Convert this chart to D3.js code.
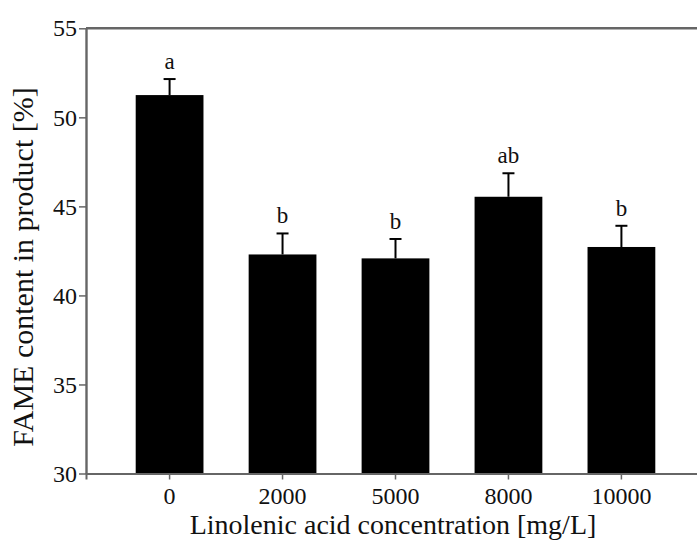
<!DOCTYPE html>
<html>
<head>
<meta charset="utf-8">
<script src="https://cdn.jsdelivr.net/npm/d3@7"></script>
<style>
  html, body { margin: 0; padding: 0; background: #fff; }
  svg { display: block; }
  text { font-family: "Liberation Serif", "Times New Roman", serif; fill: #111; }
</style>
</head>
<body>
<svg id="chart" width="697" height="540"></svg>
<script>
const categories = ["0", "2000", "5000", "8000", "10000"];
const means = [51.25, 42.3, 42.08, 45.54, 42.72];
const errors = [0.9, 1.18, 1.09, 1.32, 1.19];
const letters = ["a", "b", "b", "ab", "b"];
const yTicks = [30, 35, 40, 45, 50, 55];
const xTitle = "Linolenic acid concentration [mg/L]";
const yTitle = "FAME content in product [%]";

(function () {
const W = 697, H = 540;
const mLeft = 86, mTop = 28.3, mBottom = 473.5;
const serif = '"Liberation Serif", "Times New Roman", serif';
const svg = d3.select("#chart");

const y = d3.scaleLinear().domain([30, 55]).range([mBottom, mTop]);
const x = d3.scaleBand().domain(categories).range([mLeft, 705]).paddingInner(0.4).paddingOuter(0.44);

const axisColor = "#666";

// bars
svg.append("g").selectAll("rect").data(categories).join("rect")
  .attr("x", d => x(d))
  .attr("width", x.bandwidth())
  .attr("y", (d, i) => y(means[i]))
  .attr("height", (d, i) => y(30) - y(means[i]))
  .attr("fill", "#000");

// error bars
const eg = svg.append("g").attr("stroke", "#000").attr("stroke-width", 2);
categories.forEach((c, i) => {
  const cx = x(c) + x.bandwidth() / 2;
  eg.append("line").attr("x1", cx).attr("x2", cx).attr("y1", y(means[i])).attr("y2", y(means[i] + errors[i]));
  eg.append("line").attr("x1", cx - 6).attr("x2", cx + 6).attr("y1", y(means[i] + errors[i])).attr("y2", y(means[i] + errors[i]));
});

// significance letters
svg.append("g").selectAll("text").data(categories).join("text")
  .attr("x", d => x(d) + x.bandwidth() / 2)
  .attr("y", (d, i) => y(means[i] + errors[i]) - 10)
  .attr("text-anchor", "middle")
  .attr("font-family", serif)
  .attr("font-size", 23)
  .text((d, i) => letters[i]);

// top frame line
svg.append("line").attr("x1", mLeft).attr("x2", W).attr("y1", y(55)).attr("y2", y(55))
  .attr("stroke", axisColor).attr("stroke-width", 2.4);

// x axis
const xAxis = svg.append("g").attr("transform", `translate(0,${mBottom})`)
  .call(d3.axisBottom(x).tickSize(6).tickPadding(7));
xAxis.attr("font-family", serif);
xAxis.select(".domain").attr("stroke", axisColor).attr("stroke-width", 2);
xAxis.selectAll(".tick line").attr("stroke", axisColor).attr("stroke-width", 1.5);
xAxis.selectAll(".tick text").attr("font-size", 24).attr("fill", "#111").attr("font-family", serif);

// y axis
const yAxis = svg.append("g").attr("transform", `translate(${mLeft},0)`)
  .call(d3.axisLeft(y).tickValues(yTicks).tickSize(7).tickPadding(2).tickSizeOuter(0));
yAxis.attr("font-family", serif);
yAxis.select(".domain").attr("stroke", axisColor).attr("stroke-width", 2.4);
yAxis.selectAll(".tick line").attr("stroke", axisColor).attr("stroke-width", 1.5);
yAxis.selectAll(".tick text").attr("font-size", 24).attr("fill", "#111").attr("font-family", serif);

// titles
svg.append("text").attr("x", 393).attr("y", 534).attr("text-anchor", "middle")
  .attr("font-family", serif).attr("font-size", 28).text(xTitle);
svg.append("text").attr("transform", "translate(33,267) rotate(-90)").attr("text-anchor", "middle")
  .attr("font-family", serif).attr("font-size", 30).text(yTitle);
})();
</script>
</body>
</html>
